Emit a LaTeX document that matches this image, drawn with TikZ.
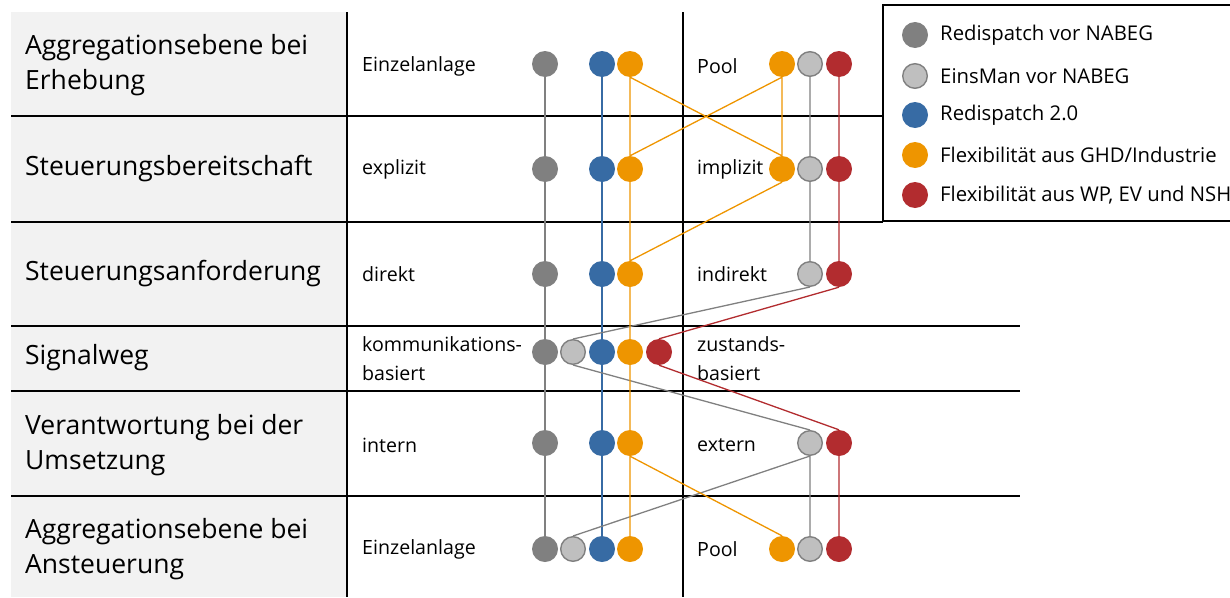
\documentclass[tikz,border=0pt]{standalone}
\usepackage{fontspec}
\setmainfont{Open Sans}
\definecolor{rdgrau}{HTML}{808080}
\definecolor{emgrau}{HTML}{BFBFBF}
\definecolor{rdblau}{HTML}{376BA4}
\definecolor{ghdorange}{HTML}{EE9500}
\definecolor{wprot}{HTML}{B22C2F}
\definecolor{panel}{HTML}{F2F2F2}

\begin{document}
\begin{tikzpicture}[x=1pt,y=-1pt]
				\tikzstyle{every node}=[inner sep=0pt]
				\tikzstyle{punkt}=[circle,minimum size=26pt]
				\tikzstyle{rdvor}=[punkt,fill=rdgrau]
				\tikzstyle{einsman}=[punkt,fill=emgrau,draw=rdgrau,line width=1.4pt,minimum size=24.6pt]
				\tikzstyle{rdzwei}=[punkt,fill=rdblau]
				\tikzstyle{ghd}=[punkt,fill=ghdorange]
				\tikzstyle{wpev}=[punkt,fill=wprot]
				\tikzstyle{kriterium}=[anchor=west,align=left,font=\fontsize{26.5}{34.5}\selectfont]
				\tikzstyle{auspraegung}=[anchor=west,align=left,font=\fontsize{19.6}{29}\selectfont]
				\tikzstyle{legtext}=[anchor=west,font=\fontsize{20.3}{22}\selectfont]
				\tikzstyle{linie}=[line width=1.5pt]
				\useasboundingbox (0,0) rectangle (1230,597);
				% Tabelle
				\fill[panel] (11,12) rectangle (347,597);
				\draw[linie] (347,12) -- (347,597);
				\draw[linie] (683,12) -- (683,597);
				\foreach \y in {116,222} \draw[linie] (11,\y) -- (883,\y);
				\foreach \y in {326,391,496} \draw[linie] (11,\y) -- (1020,\y);
				% Kriterien
				\node[kriterium] (k1) at (25,65) {Aggregationsebene bei\\Erhebung};
				\node[kriterium] (k2) at (25,169) {Steuerungsbereitschaft};
				\node[kriterium] (k3) at (25,274) {Steuerungsanforderung};
				\node[kriterium] (k4) at (25,358) {Signalweg};
				\node[kriterium] (k5) at (25,445) {Verantwortung bei der\\Umsetzung};
				\node[kriterium] (k6) at (25,549) {Aggregationsebene bei\\Ansteuerung};
				% Auspraegungen
				\node[auspraegung] (a1l) at (362,66) {Einzelanlage};
				\node[auspraegung] (a2l) at (362,169) {explizit};
				\node[auspraegung] (a3l) at (362,274) {direkt};
				\node[auspraegung] (a4l) at (362,359) {kommunikations-\\basiert};
				\node[auspraegung] (a5l) at (362,445) {intern};
				\node[auspraegung] (a6l) at (362,549) {Einzelanlage};
				\node[auspraegung] (a1r) at (697,66) {Pool};
				\node[auspraegung] (a2r) at (697,169) {implizit};
				\node[auspraegung] (a3r) at (697,274) {indirekt};
				\node[auspraegung] (a4r) at (697,359) {zustands-\\basiert};
				\node[auspraegung] (a5r) at (697,445) {extern};
				\node[auspraegung] (a6r) at (697,549) {Pool};
				% Punkte
				\foreach \i/\y in {1/64,2/169,3/274,4/352,5/443,6/549} {
					\node[rdvor] (rdv\i) at (545,\y) {};
					\node[rdzwei] (rdz\i) at (602,\y) {};
					\node[ghd] (ghd\i l) at (630,\y) {};
				}
				\node[ghd] (ghd1r) at (782,64) {};
				\node[ghd] (ghd2r) at (782,169) {};
				\node[ghd] (ghd6r) at (782,549) {};
				\node[einsman] (em1r) at (810,64) {};
				\node[einsman] (em2r) at (810,169) {};
				\node[einsman] (em3r) at (810,274) {};
				\node[einsman] (em4l) at (573,352) {};
				\node[einsman] (em5r) at (810,443) {};
				\node[einsman] (em6l) at (573,549) {};
				\node[einsman] (em6r) at (810,549) {};
				\node[wpev] (wp1r) at (839,64) {};
				\node[wpev] (wp2r) at (839,169) {};
				\node[wpev] (wp3r) at (839,274) {};
				\node[wpev] (wp4l) at (659,352) {};
				\node[wpev] (wp5r) at (839,443) {};
				\node[wpev] (wp6r) at (839,549) {};
				% Pfade
				\foreach \i/\j in {1/2,2/3,3/4,4/5,5/6} {
					\draw[rdgrau,line width=1.3pt] (rdv\i.south) -- (rdv\j.north);
					\draw[rdblau,line width=1.3pt] (rdz\i.south) -- (rdz\j.north);
				}
				\draw[rdgrau,line width=1.3pt] (em1r.south) -- (em2r.north) (em2r.south) -- (em3r.north)
					(em3r.south) -- (em4l.north) (em4l.south) -- (em5r.north)
					(em5r.south) -- (em6r.north) (em5r.south) -- (em6l.north);
				\draw[ghdorange,line width=1.3pt] (ghd1l.south) -- (ghd2l.north) (ghd1l.south) -- (ghd2r.north)
					(ghd1r.south) -- (ghd2l.north) (ghd1r.south) -- (ghd2r.north)
					(ghd2l.south) -- (ghd3l.north) (ghd2r.south) -- (ghd3l.north)
					(ghd3l.south) -- (ghd4l.north) (ghd4l.south) -- (ghd5l.north)
					(ghd5l.south) -- (ghd6l.north) (ghd5l.south) -- (ghd6r.north);
				\draw[wprot,line width=1.3pt] (wp1r.south) -- (wp2r.north) (wp2r.south) -- (wp3r.north)
					(wp3r.south) -- (wp4l.north) (wp4l.south) -- (wp5r.north)
					(wp5r.south) -- (wp6r.north);
				% Legende
				\draw[linie,fill=white] (883,5) rectangle (1245,221);
				\node[rdvor] (l1) at (915,35) {};
				\node[einsman] (l2) at (915,76) {};
				\node[rdzwei] (l3) at (915,115) {};
				\node[ghd] (l4) at (915,155) {};
				\node[wpev] (l5) at (915,195) {};
				\node[legtext] at (940,35) {Redispatch vor NABEG};
				\node[legtext] at (940,76) {EinsMan vor NABEG};
				\node[legtext] at (940,115) {Redispatch 2.0};
				\node[legtext] at (940,155) {Flexibilität aus GHD/Industrie};
				\node[legtext] at (940,195) {Flexibilität aus WP, EV und NSH};
				\end{tikzpicture}
\end{document}
